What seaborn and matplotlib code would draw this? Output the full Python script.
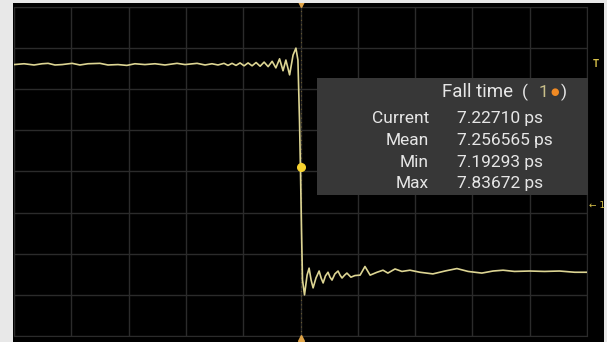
"""
Oscilloscope capture: falling edge with fall-time measurement box.
"""

import numpy as np
import matplotlib.pyplot as plt
from matplotlib.patches import Rectangle
import seaborn as sns

# waveform (200 ps/div, 100 mV/div)
time_ps = [-1000, -965, -930, -902, -881, -857, -832, -797, -770, -742,
           -700, -672, -637, -606, -578, -543, -508, -473, -431, -403,
           -361, -333, -309, -288, -267, -253, -239, -225, -211, -197,
           -183, -169, -155, -141, -127, -113, -99, -86, -73, -61,
           -51, -38, -26, -16, -9, -3.5, 0, 3.5, 7, 14,
           23, 30, 37, 44, 54, 65, 72, 79, 87, 96,
           103, 110, 120, 131, 138, 145, 154, 162, 169, 176,
           190, 208, 225, 243, 267, 288, 305, 330, 354, 382,
           417, 462, 504, 546, 585, 633, 672, 707, 747, 800,
           852, 904, 957, 1000]
volt_mv = [260, 262, 259, 262, 263, 259, 260, 263, 259, 262,
           263, 259, 260, 258, 262, 260, 262, 259, 263, 260,
           263, 259, 262, 259, 263, 258, 263, 258, 264, 257,
           264, 257, 265, 256, 266, 255, 268, 252, 274, 245,
           271, 235, 283, 300, 271, 125, -1, -142, -264, -300,
           -252, -235, -264, -283, -259, -242, -259, -271, -254, -245,
           -257, -264, -249, -242, -252, -259, -252, -247, -252, -257,
           -253, -252, -231, -252, -245, -240, -247, -237, -243, -240,
           -245, -249, -242, -236, -243, -247, -242, -240, -243, -242,
           -243, -242, -245, -245]

# measurement readout
meas_title = "Fall time"
meas_labels = ["Current", "Mean", "Min", "Max"]
meas_values = ["7.22710 ps", "7.256565 ps", "7.19293 ps", "7.83672 ps"]

# marker position on the edge
edge_point = (0, 11)

W, H = 607, 342


def fx(px):
    return px / W


def fy(py):
    return 1 - py / H


def draw():
    sns.set_style("dark")
    plt.rcParams['font.family'] = ['Roboto', 'DejaVu Sans']

    fig = plt.figure(figsize=(W / 100, H / 100), dpi=100, facecolor='black')

    # light frame strips around the screen
    for rect in [(0, 0, fx(13), 1), (0, fy(3), 1, 3 / H), (fx(604), 0, 3 / W, 1)]:
        fig.patches.append(Rectangle(rect[:2], rect[2], rect[3], transform=fig.transFigure,
                                     facecolor='#e8e8e8', edgecolor='none', zorder=0))

    ax = fig.add_axes([fx(14), 6 / H, 573 / W, 329 / H])
    ax.set_facecolor('black')
    ax.set_xlim(-1000, 1000)
    ax.set_ylim(-400, 400)
    ax.set_xticks(np.arange(-1000, 1001, 200))
    ax.set_yticks(np.arange(-400, 401, 100))
    ax.grid(True, color='#2b2b2b', lw=1.0)
    ax.tick_params(length=0, labelbottom=False, labelleft=False)
    for s in ax.spines.values():
        s.set_color('#2b2b2b')
    ax.set_xlabel("")
    ax.set_ylabel("")

    # trigger position line
    ax.axvline(0, color='#6a5a30', ls=(0, (1, 3)), lw=0.8, zorder=1)

    line = sns.lineplot(x=time_ps, y=volt_mv, ax=ax, color='#ddd593', lw=1.2, zorder=4)
    line.lines[-1].set_solid_joinstyle('round')

    ax.plot(*edge_point, 'o', color='#f6d22e', ms=5.5, zorder=5)
    ax.plot(0, 407, 'v', color='#e0a448', ms=5, clip_on=False, zorder=5)
    ax.plot(0, -405, '^', color='#e0a448', ms=5, clip_on=False, zorder=5)

    # measurement box
    ax.add_patch(Rectangle((57, -57), 946, 285, facecolor='#373737', edgecolor='none',
                           clip_on=False, zorder=3))

    txt = '#e6e6e6'
    fig.text(fx(442), fy(97), meas_title, color=txt, fontsize=13.5, va='baseline')
    fig.text(fx(522), fy(97), "(", color=txt, fontsize=12.5, va='baseline')
    fig.text(fx(539), fy(97), "1", color='#c9bf8a', fontsize=12.5, va='baseline')
    fig.text(fx(555), fy(92), "\u25cf", color='#f08a24', fontsize=7, va='center',
             ha='center', family='DejaVu Sans')
    fig.text(fx(561), fy(97), ")", color=txt, fontsize=12.5, va='baseline')

    baselines = [123, 145, 166.5, 188]
    for lab, val, b in zip(meas_labels, meas_values, baselines):
        fig.text(fx(429), fy(b), lab, color=txt, fontsize=12.5, ha='right', va='baseline')
        fig.text(fx(457), fy(b), val, color=txt, fontsize=12.5, ha='left', va='baseline')

    # right-hand level indicators
    fig.text(fx(596), fy(64), "T", color='#d8c24a', fontsize=7, ha='center',
             va='center', fontweight='bold')
    fig.text(fx(597), fy(205), "\u2190 1", color='#d8c24a', fontsize=6.5, ha='center',
             va='center', family='DejaVu Sans')

    fig.savefig('out.png', dpi=100, facecolor=fig.get_facecolor())


if __name__ == "__main__":
    draw()
